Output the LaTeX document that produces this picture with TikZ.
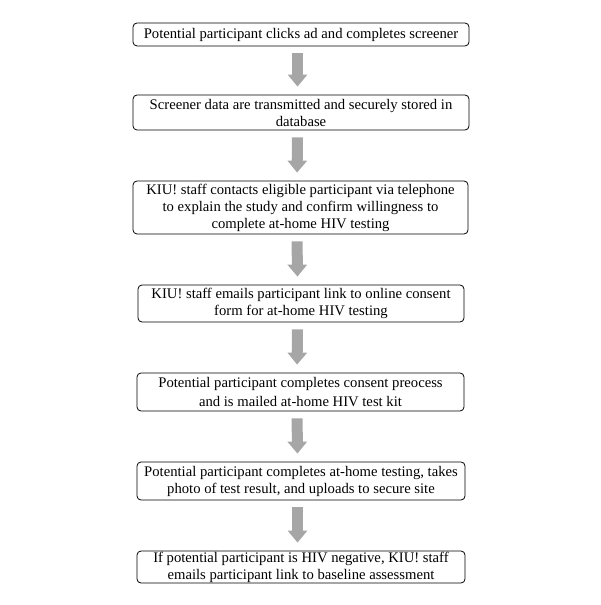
\documentclass[tikz,border=0pt]{standalone}
\usepackage{fontspec}
\setmainfont{Liberation Serif}
\usepackage{tikz}
\usetikzlibrary{arrows.meta}
\definecolor[named]{StepGray}{RGB}{166,166,166}
\tikzset{stepbox/.style={
    draw,
    line width=0.6pt,
    rounded corners=3pt,
    align=center,
    inner sep=0pt,
    font=\fontsize{11}{12.75}\selectfont
  }}
\tikzset{steparrow/.style={
    StepGray,
    line width=8.25pt,
    -{Triangle[width=14.25pt,length=9pt]},
    shorten <=5.25pt,
    shorten >=6pt
  }}

\begin{document}
\begin{tikzpicture}[x=0.75pt,y=-0.75pt]
      \useasboundingbox (0,0) rectangle (600,605);
      \node[stepbox,minimum width=252pt,minimum height=17.25pt] (S1) at (301,34.5)
        {Potential participant clicks ad and completes screener};
      \node[stepbox,minimum width=252pt,minimum height=26.25pt] (S2) at (301,112.5)
        {Screener data are transmitted and securely stored in\\database};
      \node[stepbox,minimum width=251.25pt,minimum height=39.75pt] (S3) at (300.5,207.5)
        {KIU! staff contacts eligible participant via telephone\\to explain the study and confirm willingness to\\complete at-home HIV testing};
      \node[stepbox,minimum width=244.5pt,minimum height=27.75pt] (S4) at (301,303.5)
        {KIU! staff emails participant link to online consent\\form for at-home HIV testing};
      \node[stepbox,minimum width=245.25pt,minimum height=28.5pt] (S5) at (300.5,392)
        {Potential participant completes consent preocess\\[1.5pt]and is mailed at-home HIV test kit};
      \node[stepbox,minimum width=246pt,minimum height=28.5pt] (S6) at (301,481)
        {Potential participant completes at-home testing, takes\\photo of test result, and uploads to secure site};
      \node[stepbox,minimum width=246pt,minimum height=24pt] (S7) at (301,567)
        {If potential participant is HIV negative, KIU! staff\\emails participant link to baseline assessment};
      \draw[steparrow] ([xshift=-2.6pt]S1.south) -- ([xshift=-2.6pt]S2.north);
      \draw[steparrow] ([xshift=-2.6pt]S2.south) -- ([xshift=-2.6pt]S3.north);
      \draw[steparrow] ([xshift=-2.6pt]S3.south) -- ([xshift=-2.6pt]S4.north);
      \draw[steparrow] ([xshift=-2.6pt]S4.south) -- ([xshift=-2.6pt]S5.north);
      \draw[steparrow] ([xshift=-2.6pt]S5.south) -- ([xshift=-2.6pt]S6.north);
      \draw[steparrow] ([xshift=-2.6pt]S6.south) -- ([xshift=-2.6pt]S7.north);
    \end{tikzpicture}
\end{document}
